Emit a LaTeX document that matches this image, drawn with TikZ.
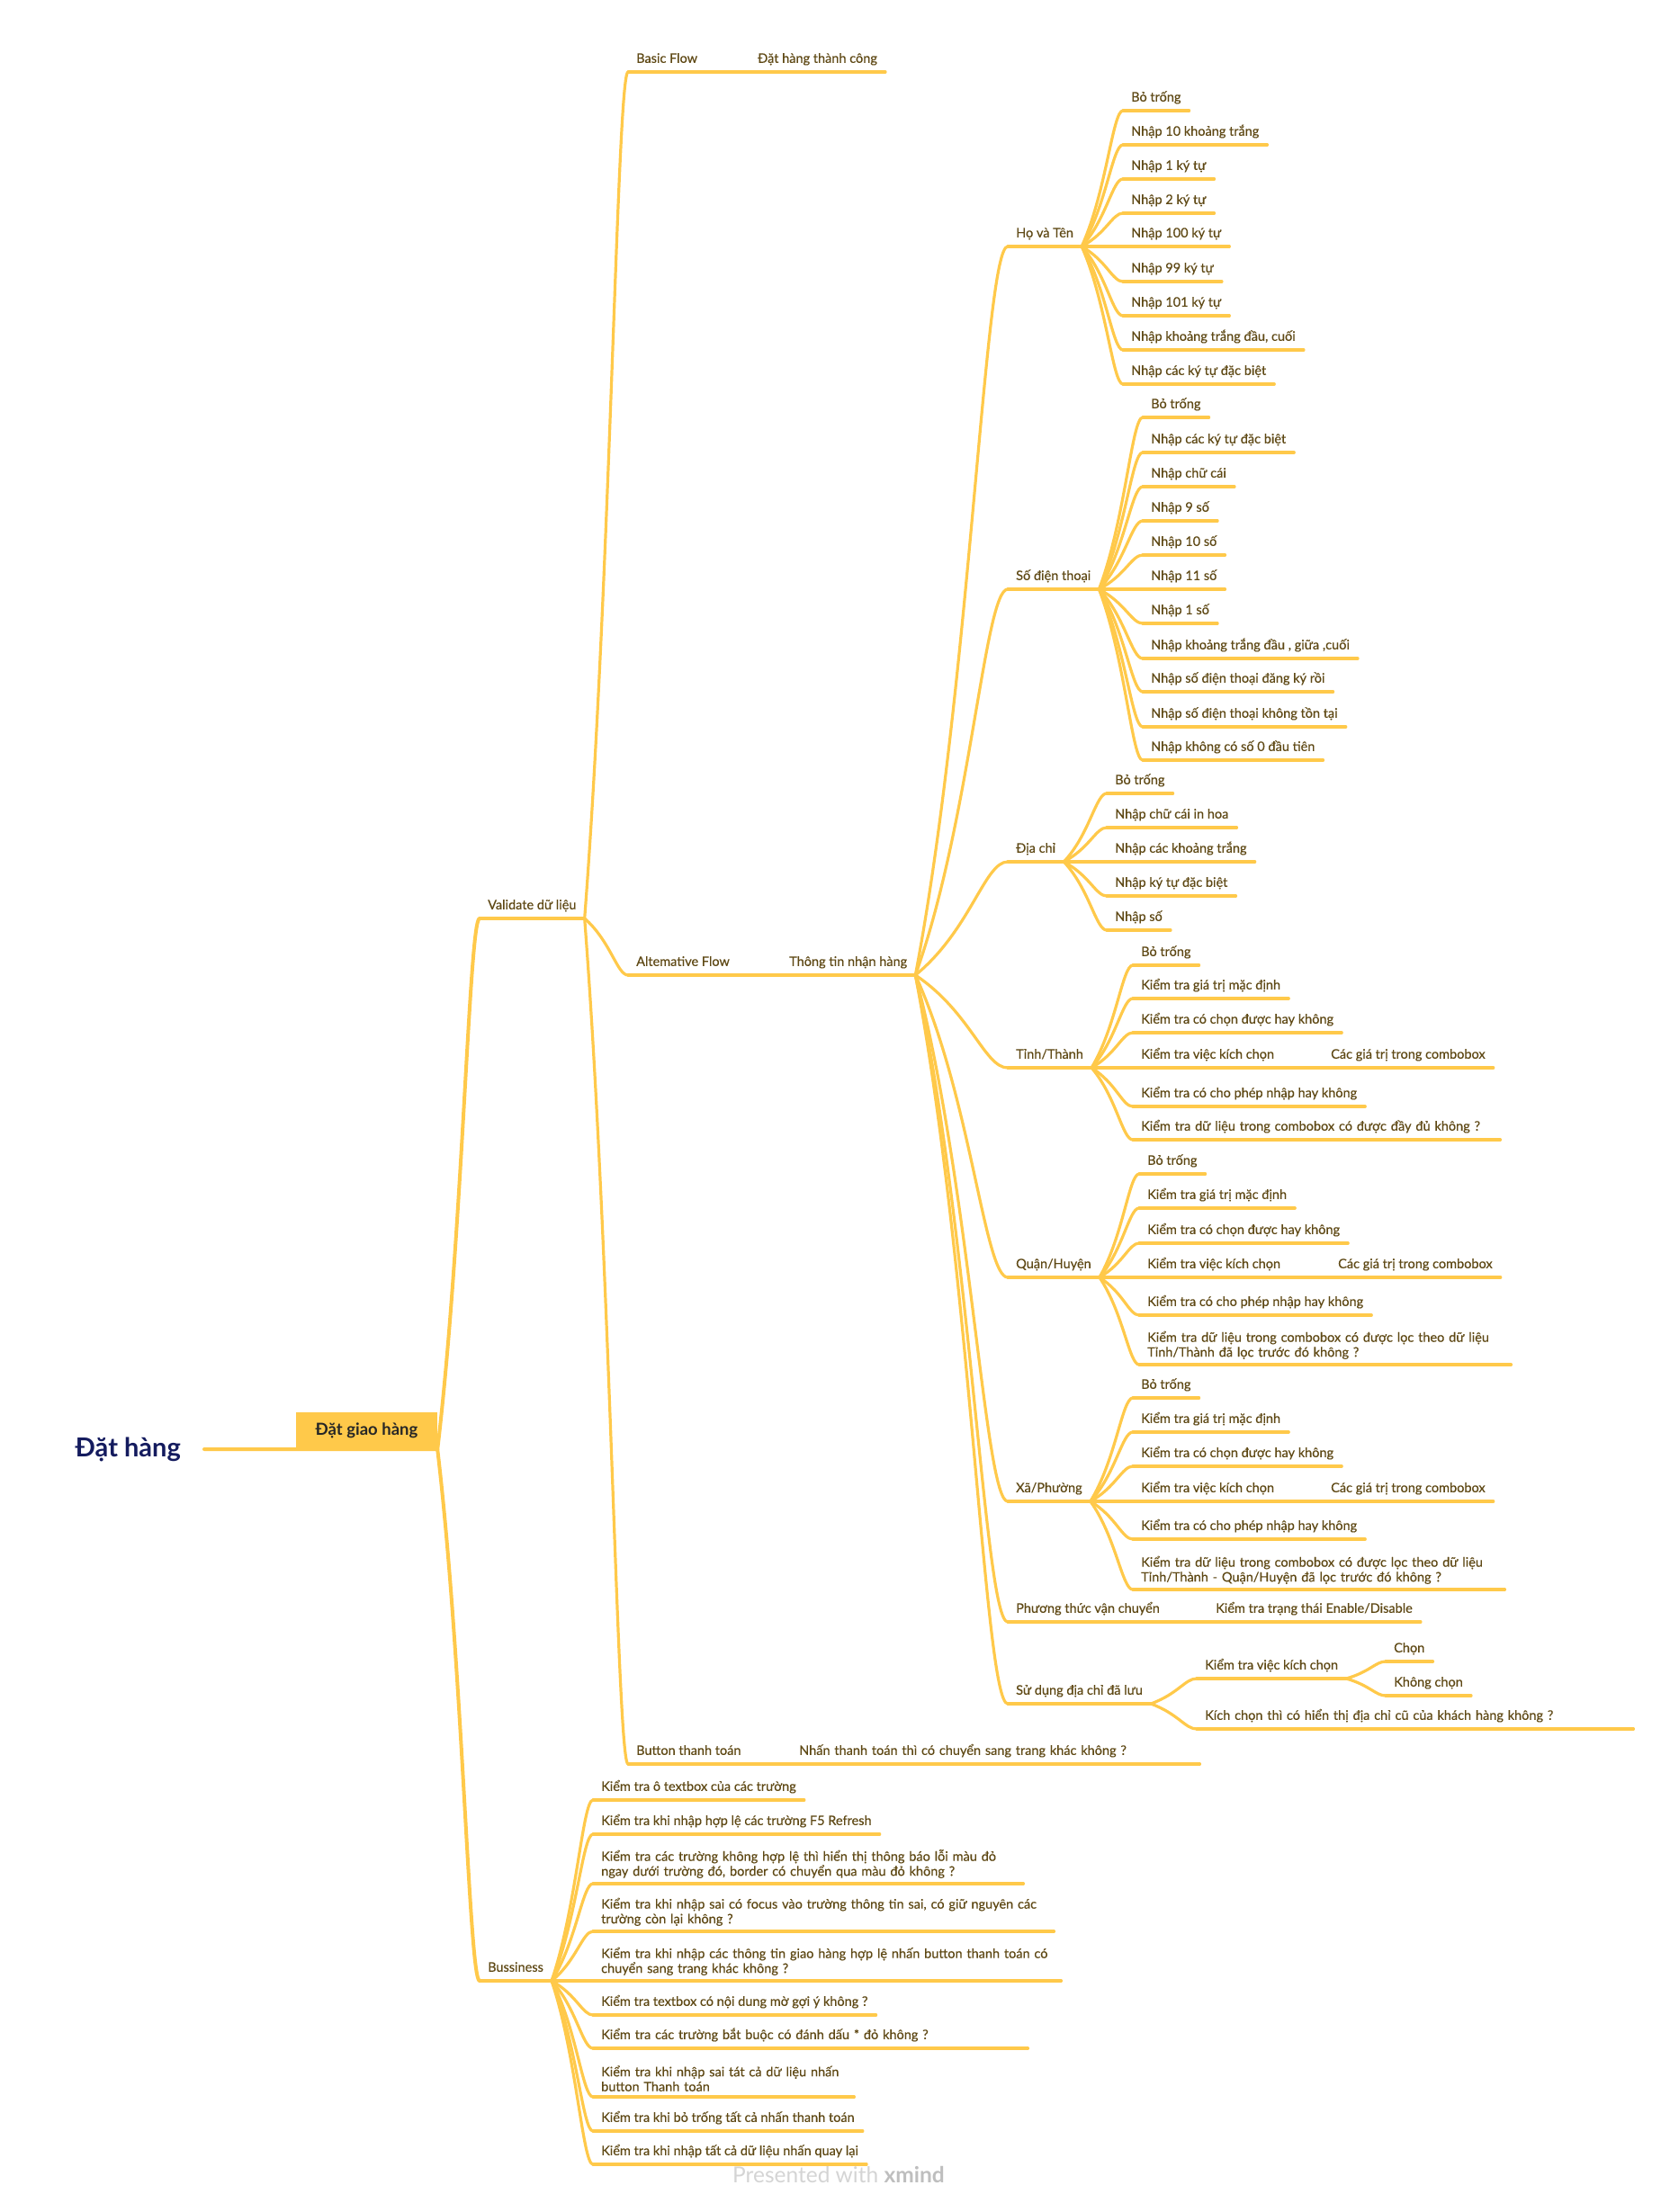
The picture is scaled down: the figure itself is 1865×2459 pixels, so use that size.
\documentclass[tikz,border=0pt]{standalone}
\usepackage{fontspec}
\setmainfont{Lato}
\newfontfamily\mapfont{Lato}[FakeBold=0.3]
\usetikzlibrary{calc}

\definecolor{mapline}{HTML}{FFC94A}
\definecolor{maptext}{HTML}{5E4814}
\definecolor{roottext}{HTML}{141B5E}
\definecolor{marklight}{HTML}{D4D4D4}
\definecolor{markdark}{HTML}{BEBEBE}

\begin{document}
\begin{tikzpicture}[x=1pt, y=-1pt,
    line/.style={draw=mapline, line width=3.2pt, line cap=round},
    branch/.style={line, to path={let \p1=(\tikztostart), \p2=(\tikztotarget) in
        .. controls ({\x1+0.6*(\x2-\x1)},{\y1+0.4*(\y2-\y1)}) and ({\x2-0.25*(\x2-\x1)},\y2) .. (\tikztotarget)}},
    trunk/.style={branch, line width=4pt},
    topicbase/.style={anchor=south west, inner xsep=9pt, inner ysep=6pt, text=maptext,
        font=\mapfont\fontsize{14.5}{16.5}\selectfont,
        append after command={(\tikzlastnode.south west) edge[line] (\tikzlastnode.south east)}},
    topic/.style={topicbase, text height=11pt, text depth=4pt},
    longtopic/.style={topicbase, align=left}]
    \useasboundingbox (0,0) rectangle (1865,2459);

    \node[font=\bfseries\fontsize{29}{32}\selectfont, text=roottext, anchor=east, inner xsep=26pt] (dathang) at (227,1611) {Đặt hàng};
    \node[fill=mapline, minimum width=157pt, minimum height=41pt, inner sep=0pt,
        font=\bfseries\fontsize{18.5}{20}\selectfont, text=black!85] (giao) at (407.5,1590.5) {Đặt giao hàng};
    \draw[trunk] (dathang.east) -- (giao.south east);

    \node[topic] (valid) at (533,1021) {Validate dữ liệu};
    \node[topic] (buss) at (533,2202) {Bussiness};

    \node[topic] (basic) at (698,80) {Basic Flow};
    \node[topic] (basicok) at (833,80) {Đặt hàng thành công};
    \node[topic] (alt) at (698,1084) {Altemative Flow};
    \node[topic] (recv) at (868,1084) {Thông tin nhận hàng};
    \node[topic] (pay) at (698,1961) {Button thanh toán};
    \node[topic, text width=436pt, align=left] (paynext) at (879,1961) {Nhấn thanh toán thì có chuyển sang trang khác không ?};

    \node[topic] (hoten) at (1120,274) {Họ và Tên};
    \node[topic] (sdt) at (1120,655) {Số điện thoại};
    \node[topic] (diachi) at (1120,958) {Địa chỉ};
    \node[topic] (tinh) at (1120,1187) {Tỉnh/Thành};
    \node[topic] (quan) at (1120,1420) {Quận/Huyện};
    \node[topic] (xa) at (1120,1669) {Xã/Phường};
    \node[topic] (ship) at (1120,1803) {Phương thức vận chuyển};
    \node[topic] (saved) at (1120,1894) {Sử dụng địa chỉ đã lưu};

    \node[topic] (ht1) at (1248,123) {Bỏ trống};
    \node[topic] (ht2) at (1248,161) {Nhập 10 khoảng trắng};
    \node[topic] (ht3) at (1248,199) {Nhập 1 ký tự};
    \node[topic] (ht4) at (1248,237) {Nhập 2 ký tự};
    \node[topic] (ht5) at (1248,274) {Nhập 100 ký tự};
    \node[topic] (ht6) at (1248,313) {Nhập 99 ký tự};
    \node[topic] (ht7) at (1248,351) {Nhập 101 ký tự};
    \node[topic] (ht8) at (1248,389) {Nhập khoảng trắng đầu, cuối};
    \node[topic] (ht9) at (1248,427) {Nhập các ký tự đặc biệt};

    \node[topic] (sd1) at (1270,464) {Bỏ trống};
    \node[topic] (sd2) at (1270,503) {Nhập các ký tự đặc biệt};
    \node[topic] (sd3) at (1270,541) {Nhập chữ cái};
    \node[topic] (sd4) at (1270,579) {Nhập 9 số};
    \node[topic] (sd5) at (1270,617) {Nhập 10 số};
    \node[topic] (sd6) at (1270,655) {Nhập 11 số};
    \node[topic] (sd7) at (1270,693) {Nhập 1 số};
    \node[topic] (sd8) at (1270,732) {Nhập khoảng trắng đầu , giữa ,cuối};
    \node[topic] (sd9) at (1270,769) {Nhập số điện thoại đăng ký rồi};
    \node[topic] (sd10) at (1270,808) {Nhập số điện thoại không tồn tại};
    \node[topic] (sd11) at (1270,845) {Nhập không có số 0 đầu tiên};

    \node[topic] (dc1) at (1230,882) {Bỏ trống};
    \node[topic] (dc2) at (1230,920) {Nhập chữ cái in hoa};
    \node[topic] (dc3) at (1230,958) {Nhập các khoảng trắng};
    \node[topic] (dc4) at (1230,996) {Nhập ký tự đặc biệt};
    \node[topic] (dc5) at (1230,1034) {Nhập số};

    \node[topic] (tt1) at (1259,1073) {Bỏ trống};
    \node[topic] (tt2) at (1259,1110) {Kiểm tra giá trị mặc định};
    \node[topic] (tt3) at (1259,1148) {Kiểm tra có chọn được hay không};
    \node[topic] (tt4) at (1259,1187) {Kiểm tra việc kích chọn};
    \node[topic] (tt4a) at (1470,1187) {Các giá trị trong combobox};
    \node[topic] (tt5) at (1259,1230) {Kiểm tra có cho phép nhập hay không};
    \node[topic, text width=390pt, align=left] (tt6) at (1259,1267) {Kiểm tra dữ liệu trong combobox có được đầy đủ không ?};

    \node[topic] (qh1) at (1266,1305) {Bỏ trống};
    \node[topic] (qh2) at (1266,1343) {Kiểm tra giá trị mặc định};
    \node[topic] (qh3) at (1266,1382) {Kiểm tra có chọn được hay không};
    \node[topic] (qh4) at (1266,1420) {Kiểm tra việc kích chọn};
    \node[topic] (qh4a) at (1478,1420) {Các giá trị trong combobox};
    \node[topic] (qh5) at (1266,1462) {Kiểm tra có cho phép nhập hay không};
    \node[longtopic, text width=395pt] (qh6) at (1266,1517) {Kiểm tra dữ liệu trong combobox có được lọc theo dữ liệu\\Tỉnh/Thành đã lọc trước đó không ?};

    \node[topic] (xp1) at (1259,1554) {Bỏ trống};
    \node[topic] (xp2) at (1259,1592) {Kiểm tra giá trị mặc định};
    \node[topic] (xp3) at (1259,1630) {Kiểm tra có chọn được hay không};
    \node[topic] (xp4) at (1259,1669) {Kiểm tra việc kích chọn};
    \node[topic] (xp4a) at (1470,1669) {Các giá trị trong combobox};
    \node[topic] (xp5) at (1259,1711) {Kiểm tra có cho phép nhập hay không};
    \node[longtopic, text width=395pt] (xp6) at (1259,1767) {Kiểm tra dữ liệu trong combobox có được lọc theo dữ liệu\\Tỉnh/Thành - Quận/Huyện đã lọc trước đó không ?};

    \node[topic] (shipchk) at (1342,1803) {Kiểm tra trạng thái Enable/Disable};

    \node[topic] (sv1) at (1330,1866) {Kiểm tra việc kích chọn};
    \node[topic] (sv1a) at (1540,1847) {Chọn};
    \node[topic] (sv1b) at (1540,1885) {Không chọn};
    \node[topic, text width=467pt, align=left] (sv2) at (1330,1922) {Kích chọn thì có hiển thị địa chỉ cũ của khách hàng không ?};

    \node[topic] (bz1) at (659,2001) {Kiểm tra ô textbox của các trường};
    \node[topic] (bz2) at (659,2039) {Kiểm tra khi nhập hợp lệ các trường F5 Refresh};
    \node[longtopic, text width=460pt] (bz3) at (659,2094) {Kiểm tra các trường không hợp lệ thì hiển thị thông báo lỗi màu đỏ\\ngay dưới trường đó, border có chuyển qua màu đỏ không ?};
    \node[longtopic, text width=494pt] (bz4) at (659,2147) {Kiểm tra khi nhập sai có focus vào trường thông tin sai, có giữ nguyên các\\trường còn lại không ?};
    \node[longtopic, text width=502pt] (bz5) at (659,2202) {Kiểm tra khi nhập các thông tin giao hàng hợp lệ nhấn button thanh toán có\\chuyển sang trang khác không ?};
    \node[topic] (bz6) at (659,2240) {Kiểm tra textbox có nội dung mờ gợi ý không ?};
    \node[topic, text width=465pt, align=left] (bz7) at (659,2277) {Kiểm tra các trường bắt buộc có đánh dấu * đỏ không ?};
    \node[longtopic, text width=272pt] (bz8) at (659,2331) {Kiểm tra khi nhập sai tát cả dữ liệu nhấn\\button Thanh toán};
    \node[topic] (bz9) at (659,2369) {Kiểm tra khi bỏ trống tất cả nhấn thanh toán};
    \node[topic] (bz10) at (659,2406) {Kiểm tra khi nhập tất cả dữ liệu nhấn quay lại};

    \draw[trunk] (giao.south east) edge (valid.south west) edge (buss.south west);
    \draw[branch] (valid.south east) edge (basic.south west) edge (alt.south west) edge (pay.south west);
    \draw[branch] (basic.south east) edge (basicok.south west);
    \draw[branch] (alt.south east) edge (recv.south west);
    \draw[branch] (pay.south east) edge (paynext.south west);
    \draw[branch] (recv.south east) edge (hoten.south west) edge (sdt.south west) edge (diachi.south west)
        edge (tinh.south west) edge (quan.south west) edge (xa.south west) edge (ship.south west) edge (saved.south west);
    \draw[branch] (hoten.south east) edge (ht1.south west) edge (ht2.south west) edge (ht3.south west)
        edge (ht4.south west) edge (ht5.south west) edge (ht6.south west) edge (ht7.south west)
        edge (ht8.south west) edge (ht9.south west);
    \draw[branch] (sdt.south east) edge (sd1.south west) edge (sd2.south west) edge (sd3.south west)
        edge (sd4.south west) edge (sd5.south west) edge (sd6.south west) edge (sd7.south west)
        edge (sd8.south west) edge (sd9.south west) edge (sd10.south west) edge (sd11.south west);
    \draw[branch] (diachi.south east) edge (dc1.south west) edge (dc2.south west) edge (dc3.south west)
        edge (dc4.south west) edge (dc5.south west);
    \draw[branch] (tinh.south east) edge (tt1.south west) edge (tt2.south west) edge (tt3.south west)
        edge (tt4.south west) edge (tt5.south west) edge (tt6.south west);
    \draw[branch] (tt4.south east) edge (tt4a.south west);
    \draw[branch] (quan.south east) edge (qh1.south west) edge (qh2.south west) edge (qh3.south west)
        edge (qh4.south west) edge (qh5.south west) edge (qh6.south west);
    \draw[branch] (qh4.south east) edge (qh4a.south west);
    \draw[branch] (xa.south east) edge (xp1.south west) edge (xp2.south west) edge (xp3.south west)
        edge (xp4.south west) edge (xp5.south west) edge (xp6.south west);
    \draw[branch] (xp4.south east) edge (xp4a.south west);
    \draw[branch] (ship.south east) edge (shipchk.south west);
    \draw[branch] (saved.south east) edge (sv1.south west) edge (sv2.south west);
    \draw[branch] (sv1.south east) edge (sv1a.south west) edge (sv1b.south west);
    \draw[branch] (buss.south east) edge (bz1.south west) edge (bz2.south west) edge (bz3.south west)
        edge (bz4.south west) edge (bz5.south west) edge (bz6.south west) edge (bz7.south west)
        edge (bz8.south west) edge (bz9.south west) edge (bz10.south west);

    \node[font=\fontsize{24.5}{27}\selectfont, text=marklight] (mark) at (932,2417) {Presented with \textcolor{markdark}{\textbf{xmind}}};
\end{tikzpicture}
\end{document}
